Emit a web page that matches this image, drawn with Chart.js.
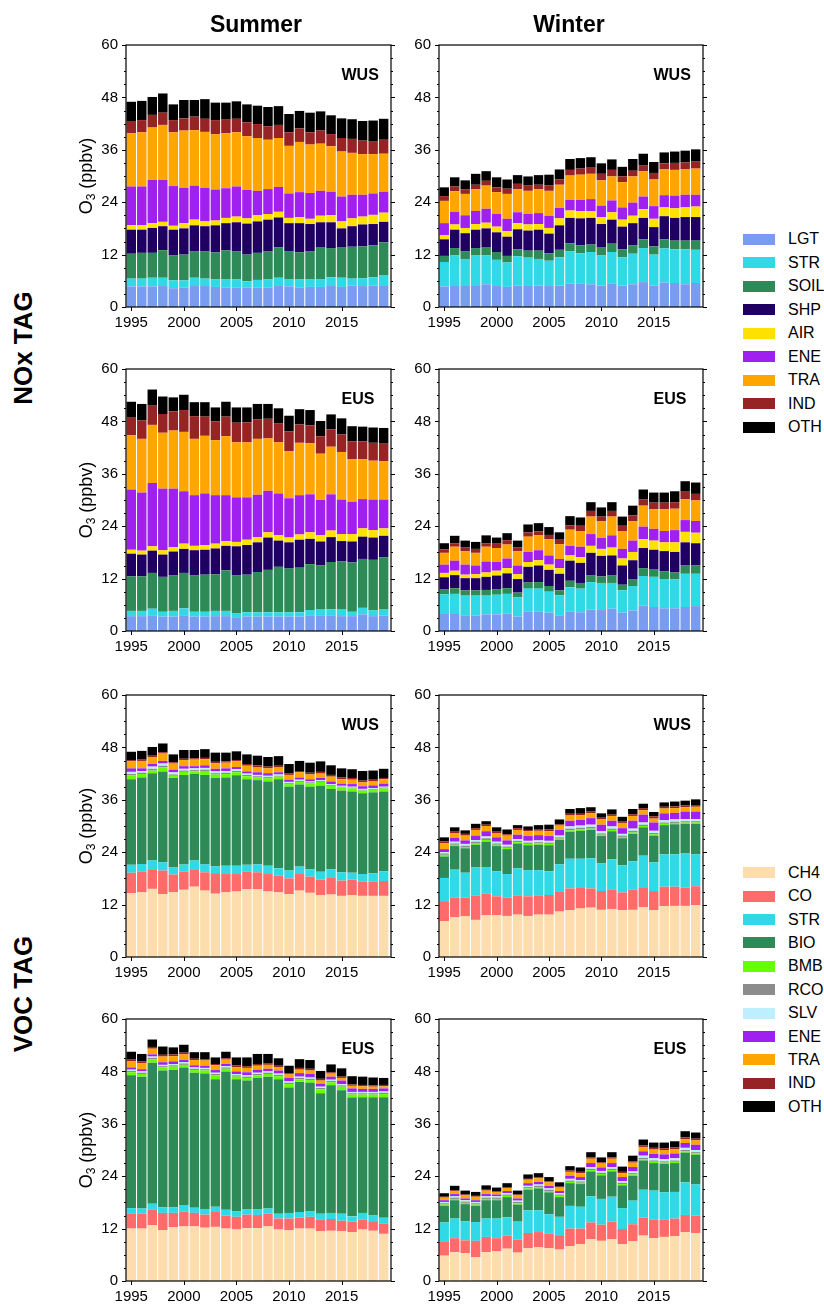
<!DOCTYPE html>
<html><head><meta charset="utf-8">
<script src="https://cdn.jsdelivr.net/npm/chart.js@4.4.1/dist/chart.umd.min.js"></script>
<style>
body{margin:0;background:#fff;width:824px;height:1304px;position:relative;overflow:hidden;font-family:"Liberation Sans",Arial,Helvetica,sans-serif;color:#000;}
canvas{position:absolute;}
.t{position:absolute;white-space:nowrap;}
.col{font-weight:bold;font-size:23px;width:200px;text-align:center;line-height:28px;}
.tag{font-weight:bold;font-size:26px;width:240px;height:32px;line-height:32px;text-align:center;transform:rotate(-90deg);}
.ylab{font-size:18px;width:160px;height:24px;line-height:24px;text-align:center;transform:rotate(-90deg);}
.ylab sub{font-size:12px;vertical-align:-3px;line-height:0;}
.reg{font-weight:bold;font-size:16px;line-height:20px;}
.leg{font-size:16px;line-height:20px;height:20px;}
.sw{position:absolute;width:32px;height:11px;}
</style></head><body>
<div id="root"></div>
<script>
const years = [1995,1996,1997,1998,1999,2000,2001,2002,2003,2004,2005,2006,2007,2008,2009,2010,2011,2012,2013,2014,2015,2016,2017,2018,2019];
const X_TICKS = [1995,2000,2005,2010,2015];
const Y_TICKS = [0,12,24,36,48,60];

// ---- NOx TAG, Summer, WUS ----
const noxSumWUS_LGT = [4.7,4.7,4.7,4.8,4.3,4.4,4.8,4.8,4.6,4.5,4.5,4.4,4.4,4.5,4.8,4.7,4.5,4.6,4.6,4.8,4.6,4.9,4.8,4.9,5.0];
const noxSumWUS_STR = [1.8,1.8,2.0,1.9,1.8,1.7,1.9,1.7,1.7,1.9,1.9,1.5,1.8,1.9,1.9,1.7,1.9,1.7,1.8,2.0,2.1,1.6,1.8,1.9,2.2];
const noxSumWUS_SOIL = [5.7,5.9,5.7,6.3,5.7,5.9,6.1,6.2,6.2,6.6,6.4,6.1,6.2,6.3,7.0,6.4,6.1,6.5,7.2,6.7,6.9,7.3,7.3,7.3,7.6];
const noxSumWUS_SHP = [5.5,5.3,5.7,5.5,5.9,6.0,5.9,5.8,6.2,6.2,6.6,7.1,7.2,7.3,6.8,6.4,6.7,6.2,5.8,5.9,4.4,4.7,5.0,4.9,4.7];
const noxSumWUS_AIR = [1.0,1.0,1.1,1.0,0.9,1.2,1.3,1.1,1.1,1.2,1.3,1.2,1.4,1.3,1.3,1.2,1.4,1.2,1.5,1.6,1.6,1.8,1.8,2.1,2.1];
const noxSumWUS_ENE = [8.9,8.9,9.9,9.6,9.1,8.1,7.8,7.7,7.1,6.8,6.9,6.5,5.6,5.7,5.7,5.6,5.7,5.9,5.7,5.4,5.7,5.4,5.0,4.9,4.8];
const noxSumWUS_TRA = [12.2,12.4,12.0,12.6,12.3,13.1,12.7,12.8,12.7,12.6,12.4,12.3,12.1,11.3,11.2,10.9,11.5,11.1,10.8,10.4,10.3,9.6,9.3,9.0,8.7];
const noxSumWUS_IND = [2.8,2.8,2.9,2.8,2.8,2.8,3.1,3.0,3.2,3.1,3.1,3.2,3.2,3.1,3.0,3.1,3.1,2.8,3.0,2.8,3.1,3.2,3.1,3.0,3.2];
const noxSumWUS_OTH = [4.4,4.4,4.1,4.4,3.6,4.2,3.8,4.5,4.0,3.9,4.0,4.1,4.2,4.4,4.3,4.2,4.0,4.5,4.4,4.3,4.5,4.5,4.5,4.7,4.8];

// ---- NOx TAG, Winter, WUS ----
const noxWinWUS_LGT = [4.7,5.0,5.0,5.0,5.2,4.8,4.6,4.9,5.0,4.9,4.8,4.9,5.4,5.3,5.2,4.9,5.3,4.9,5.2,5.7,4.9,5.6,5.5,5.2,5.5];
const noxWinWUS_STR = [5.6,6.8,6.0,6.9,6.6,6.0,5.6,6.7,6.3,6.1,5.8,6.5,7.4,7.0,7.4,6.9,7.3,6.5,7.0,7.8,7.1,7.8,7.7,8.0,7.6];
const noxWinWUS_SOIL = [1.4,1.7,1.7,1.6,1.8,1.8,1.5,1.6,1.6,1.9,1.7,1.7,1.8,1.8,1.7,1.8,1.9,1.8,1.9,2.0,1.9,2.1,2.0,2.0,2.1];
const noxWinWUS_SHP = [3.8,4.2,4.2,4.2,4.4,4.5,4.4,4.6,4.6,4.8,4.5,5.6,5.8,6.2,6.1,5.4,5.5,5.2,5.1,4.9,4.4,5.3,5.2,5.4,5.4];
const noxWinWUS_AIR = [0.9,1.2,1.2,1.3,1.3,1.3,1.3,1.4,1.4,1.3,1.3,1.6,1.7,1.6,1.5,1.6,1.7,1.6,1.7,2.0,1.9,2.0,2.2,2.2,2.4];
const noxWinWUS_ENE = [2.8,2.9,2.9,3.0,3.2,2.9,2.8,2.5,2.4,2.5,2.8,2.4,2.4,2.6,2.8,2.6,2.7,2.8,3.0,2.9,2.9,2.8,2.9,2.9,2.7];
const noxWinWUS_TRA = [5.1,4.7,4.9,5.0,5.3,5.0,5.7,5.3,5.3,5.5,5.7,5.3,5.6,5.8,5.8,5.8,5.5,5.8,6.0,5.8,6.1,5.9,5.9,5.9,6.0];
const noxWinWUS_IND = [1.1,1.1,1.0,1.0,1.1,1.1,1.2,1.2,1.2,1.0,1.3,1.2,1.3,1.4,1.4,1.5,1.5,1.3,1.3,1.4,1.5,1.4,1.6,1.5,1.6];
const noxWinWUS_OTH = [2.0,2.1,2.1,2.5,2.2,2.3,2.1,2.0,2.1,2.2,2.4,2.3,2.5,2.4,2.4,2.4,2.4,2.2,2.7,2.6,2.5,2.5,2.6,2.7,2.8];

// ---- NOx TAG, Summer, EUS ----
const noxSumEUS_LGT = [3.4,3.4,3.6,3.3,3.3,3.6,3.3,3.3,3.4,3.4,3.0,3.3,3.3,3.3,3.3,3.3,3.3,3.6,3.6,3.6,3.4,3.4,3.8,3.4,3.5];
const noxSumEUS_STR = [1.2,1.2,1.5,1.1,1.3,1.6,1.1,1.1,1.2,1.2,1.0,1.0,1.0,1.0,1.0,1.0,1.0,1.2,1.3,1.4,1.5,1.0,1.5,1.3,1.4];
const noxSumEUS_SOIL = [7.9,7.9,8.2,8.0,8.2,8.1,8.4,8.5,8.4,9.3,8.8,8.6,9.2,9.7,10.4,10.0,10.2,10.5,10.1,10.8,11.1,11.3,11.2,11.6,12.0];
const noxSumEUS_SHP = [5.2,5.0,5.1,5.1,5.4,5.5,5.7,5.7,5.9,5.6,6.6,6.8,6.8,7.4,6.0,6.0,6.4,5.8,5.5,5.7,4.6,4.8,5.1,5.1,4.9];
const noxSumEUS_AIR = [0.9,0.9,1.0,1.0,1.0,1.2,1.0,1.1,1.1,1.1,1.0,1.2,1.2,1.2,1.2,1.1,1.2,1.5,1.4,1.5,1.6,1.7,1.9,1.7,1.7];
const noxSumEUS_ENE = [13.8,13.3,14.5,14.1,13.4,12.0,11.6,11.8,11.1,10.5,10.2,9.7,9.7,9.5,9.6,9.0,9.0,8.7,8.1,8.3,7.9,7.4,6.7,7.0,6.6];
const noxSumEUS_TRA = [12.4,12.3,13.3,12.8,13.3,13.6,12.9,13.2,12.6,13.5,12.6,12.6,12.8,12.0,11.7,10.8,12.0,11.7,10.6,10.9,10.9,9.7,9.1,8.9,8.8];
const noxSumEUS_IND = [4.2,4.2,4.4,4.3,4.4,5.0,5.2,4.4,4.3,4.5,4.5,4.6,4.5,4.5,4.4,4.5,4.2,4.1,4.0,4.0,4.0,4.1,4.1,4.1,4.0];
const noxSumEUS_OTH = [3.5,3.8,3.7,4.0,3.2,3.5,3.2,3.3,3.2,3.4,3.5,3.4,3.5,3.4,3.4,3.6,3.5,3.5,3.5,3.4,3.7,3.5,3.4,3.5,3.6];

// ---- NOx TAG, Winter, EUS ----
const noxWinEUS_LGT = [3.9,3.9,3.6,3.5,3.8,3.8,4.0,3.3,4.4,4.4,4.2,3.6,4.5,4.3,4.9,4.8,5.1,4.2,4.7,5.8,5.5,5.2,5.2,5.5,5.7];
const noxWinEUS_STR = [4.5,4.6,4.5,4.6,4.3,4.5,4.5,4.4,5.3,5.3,4.8,4.6,5.5,5.4,6.3,6.2,5.9,5.1,5.6,6.8,6.9,6.7,6.6,7.6,7.4];
const noxWinEUS_SOIL = [1.2,1.3,1.2,1.2,1.3,1.3,1.3,1.1,1.4,1.5,1.3,1.1,1.5,1.3,1.6,1.5,1.7,1.3,1.6,1.8,1.8,1.8,1.6,2.0,1.9];
const noxWinEUS_SHP = [2.7,3.0,2.8,2.8,3.0,3.1,3.4,3.1,3.6,3.8,3.7,3.8,4.6,4.6,5.1,4.7,4.6,4.4,4.3,4.6,4.4,4.6,4.7,5.2,5.1];
const noxWinEUS_AIR = [1.0,1.0,0.8,0.9,1.0,1.1,1.2,1.1,1.1,1.2,1.2,1.3,1.2,1.3,1.6,1.6,1.8,1.6,1.9,2.0,2.1,2.0,2.2,2.4,2.4];
const noxWinEUS_ENE = [1.9,2.3,2.3,2.0,2.5,2.0,2.2,2.0,2.3,2.3,2.1,2.1,2.2,2.4,2.7,2.5,2.8,2.2,2.6,2.9,2.7,2.6,2.8,2.7,2.7];
const noxWinEUS_TRA = [2.7,3.2,3.1,2.9,3.4,3.2,3.2,3.3,3.5,3.4,3.7,3.4,3.7,3.6,4.0,3.8,4.3,4.1,4.4,4.8,4.5,5.0,4.9,4.8,4.7];
const noxWinEUS_IND = [0.8,0.8,0.9,0.9,0.8,1.0,1.0,0.9,1.0,0.9,1.0,1.0,1.0,1.2,1.3,1.1,1.3,1.2,1.4,1.4,1.5,1.5,1.5,1.7,1.5];
const noxWinEUS_OTH = [1.4,1.7,1.5,1.6,1.8,1.4,1.6,1.5,1.8,1.9,1.8,1.7,2.1,1.9,2.0,2.1,2.0,2.1,2.2,2.3,2.3,2.3,2.5,2.4,2.6];

// ---- VOC TAG, Summer, WUS ----
const vocSumWUS_CH4 = [14.6,14.8,15.6,14.4,14.8,15.4,16.1,15.2,14.5,14.8,15.0,15.5,15.5,15.0,14.8,14.4,15.2,14.7,14.2,14.3,14.0,14.2,14.0,14.0,14.0];
const vocSumWUS_CO = [4.7,4.7,4.5,5.4,4.1,4.2,4.0,4.2,4.7,4.2,4.0,4.0,3.9,4.0,3.8,3.6,3.8,3.7,3.5,3.8,3.5,3.5,3.3,3.3,3.4];
const vocSumWUS_STR = [1.8,1.8,2.0,1.9,1.6,1.6,2.0,1.8,1.6,1.9,1.9,1.6,1.8,1.9,1.7,1.8,1.7,1.7,1.8,2.0,1.9,1.6,1.7,1.9,2.2];
const vocSumWUS_BIO = [19.6,19.8,20.0,20.8,20.5,20.5,19.8,20.5,20.2,20.2,20.7,19.6,19.3,19.3,20.4,19.2,18.8,18.9,19.7,18.4,18.7,18.6,18.5,18.5,18.3];
const vocSumWUS_BMB = [0.9,0.8,0.6,0.9,0.5,0.7,0.6,0.9,0.8,0.8,0.7,0.7,0.6,0.7,0.6,0.6,0.6,0.8,0.9,0.7,0.7,0.7,0.6,0.6,0.7];
const vocSumWUS_RCO = [0.3,0.3,0.4,0.4,0.3,0.3,0.3,0.3,0.3,0.3,0.3,0.3,0.3,0.3,0.2,0.2,0.2,0.2,0.2,0.2,0.2,0.2,0.2,0.2,0.2];
const vocSumWUS_SLV = [0.5,0.4,0.5,0.5,0.5,0.4,0.4,0.4,0.4,0.4,0.4,0.3,0.3,0.3,0.3,0.3,0.3,0.2,0.2,0.2,0.2,0.2,0.2,0.2,0.2];
const vocSumWUS_ENE = [0.8,0.6,0.6,0.6,0.6,0.6,0.5,0.6,0.6,0.6,0.5,0.5,0.6,0.6,0.5,0.5,0.5,0.5,0.5,0.6,0.5,0.6,0.6,0.6,0.7];
const vocSumWUS_TRA = [1.6,1.7,1.5,1.7,1.4,1.4,1.5,1.4,1.3,1.3,1.3,1.3,1.1,1.1,1.1,1.1,1.2,1.1,1.0,1.1,1.0,1.0,0.9,0.9,1.0];
const vocSumWUS_IND = [0.3,0.3,0.4,0.3,0.3,0.3,0.3,0.3,0.3,0.3,0.3,0.4,0.5,0.4,0.4,0.3,0.3,0.4,0.4,0.4,0.4,0.4,0.4,0.4,0.3];
const vocSumWUS_OTH = [1.9,2.0,2.0,2.0,1.8,2.0,1.9,2.0,2.1,2.0,2.0,2.2,2.2,2.2,2.2,2.2,2.3,2.3,2.4,2.2,2.1,2.0,2.2,2.1,2.1];

// ---- VOC TAG, Winter, WUS ----
const vocWinWUS_CH4 = [8.2,9.1,9.3,8.5,9.6,9.6,9.4,9.7,9.4,9.7,9.7,10.4,10.7,11.1,11.3,10.8,11.0,10.7,10.8,11.4,10.7,11.6,11.7,11.7,11.9];
const vocWinWUS_CO = [4.6,4.5,4.3,5.6,4.9,4.3,4.2,4.3,4.5,4.3,4.5,4.5,5.0,4.7,4.4,4.3,4.5,4.1,4.6,4.4,4.4,4.5,4.4,4.2,4.3];
const vocWinWUS_STR = [5.3,6.4,5.7,6.4,6.1,5.7,5.4,6.3,6.0,5.9,5.4,6.3,6.8,6.7,6.9,6.4,6.9,6.2,6.5,7.4,6.6,7.4,7.4,7.8,7.3];
const vocWinWUS_BIO = [4.9,5.4,5.6,5.2,5.8,5.8,5.7,5.7,5.7,5.8,6.0,5.6,6.2,6.4,6.5,6.2,6.4,6.2,6.3,6.5,6.1,6.7,6.9,6.8,7.0];
const vocWinWUS_BMB = [0.4,0.3,0.3,0.4,0.4,0.3,0.3,0.3,0.3,0.3,0.3,0.3,0.3,0.3,0.3,0.3,0.3,0.3,0.3,0.3,0.3,0.3,0.3,0.3,0.3];
const vocWinWUS_RCO = [0.3,0.3,0.3,0.3,0.4,0.3,0.3,0.3,0.3,0.3,0.3,0.3,0.4,0.4,0.4,0.3,0.3,0.3,0.4,0.3,0.3,0.3,0.3,0.3,0.3];
const vocWinWUS_SLV = [0.3,0.4,0.4,0.4,0.4,0.4,0.4,0.4,0.4,0.4,0.4,0.4,0.5,0.5,0.5,0.5,0.5,0.4,0.5,0.5,0.5,0.5,0.5,0.5,0.5];
const vocWinWUS_ENE = [0.7,0.9,0.8,1.0,1.2,1.0,1.0,1.0,1.1,1.2,1.1,1.3,1.3,1.3,1.5,1.5,1.3,1.3,1.8,1.8,1.9,1.6,1.5,1.7,1.7];
const vocWinWUS_TRA = [1.4,1.1,1.1,1.3,1.2,1.0,1.1,1.1,1.1,1.0,1.1,1.0,1.2,1.1,1.1,1.2,1.1,1.2,1.1,1.0,0.9,1.1,1.1,1.0,1.1];
const vocWinWUS_IND = [0.4,0.3,0.4,0.4,0.3,0.3,0.3,0.4,0.3,0.4,0.4,0.3,0.4,0.3,0.4,0.4,0.3,0.3,0.4,0.5,0.5,0.4,0.4,0.4,0.4];
const vocWinWUS_OTH = [0.9,1.0,0.8,1.0,0.8,1.0,1.1,0.7,0.8,0.9,1.1,1.1,1.1,1.3,1.0,1.0,1.2,1.1,1.2,1.0,1.0,1.0,1.1,1.1,1.3];

// ---- VOC TAG, Summer, EUS ----
const vocSumEUS_CH4 = [12.0,12.0,12.8,11.6,12.3,12.5,12.5,12.2,12.4,12.0,11.8,12.1,12.1,12.5,11.8,11.6,12.0,12.0,11.4,11.5,11.4,11.2,11.8,11.5,10.8];
const vocSumEUS_CO = [3.5,3.4,3.5,4.0,3.3,3.4,3.1,3.0,3.4,3.0,2.9,3.1,3.0,2.9,2.5,2.7,2.5,2.7,2.6,2.7,2.4,2.4,2.3,2.2,2.3];
const vocSumEUS_STR = [1.2,1.2,1.4,1.3,1.3,1.5,1.2,1.3,1.2,1.3,1.2,1.2,1.3,1.2,1.1,1.3,1.3,1.3,1.4,1.4,1.6,1.2,1.5,1.3,1.4];
const vocSumEUS_BIO = [30.4,30.2,32.3,31.3,31.5,31.5,30.9,31.0,29.2,31.7,30.3,29.5,30.1,30.2,30.8,28.7,29.8,29.4,27.6,29.2,28.3,27.2,26.5,27.1,27.6];
const vocSumEUS_BMB = [0.7,0.6,0.8,0.7,0.7,0.6,0.6,0.7,0.9,0.6,0.6,0.6,0.6,0.6,0.7,0.8,0.6,0.6,0.9,0.7,0.8,0.7,0.6,0.6,0.7];
const vocSumEUS_RCO = [0.3,0.3,0.3,0.3,0.3,0.3,0.3,0.3,0.3,0.3,0.3,0.3,0.3,0.3,0.3,0.3,0.3,0.3,0.3,0.3,0.3,0.3,0.3,0.3,0.3];
const vocSumEUS_SLV = [0.3,0.3,0.3,0.3,0.3,0.3,0.3,0.3,0.3,0.3,0.3,0.3,0.3,0.3,0.3,0.3,0.3,0.3,0.3,0.3,0.3,0.3,0.3,0.3,0.3];
const vocSumEUS_ENE = [0.5,0.5,0.5,0.6,0.6,0.5,0.5,0.5,0.6,0.5,0.6,0.7,0.7,0.6,0.7,0.8,0.8,0.8,0.7,0.7,0.8,0.8,0.7,0.7,0.7];
const vocSumEUS_TRA = [1.4,1.4,1.3,1.3,1.2,1.3,1.2,1.2,1.1,1.0,1.0,1.0,0.9,0.9,0.8,0.8,0.8,0.8,0.7,0.7,0.6,0.6,0.6,0.5,0.5];
const vocSumEUS_IND = [0.4,0.4,0.4,0.4,0.4,0.4,0.3,0.3,0.3,0.3,0.4,0.4,0.4,0.4,0.3,0.3,0.4,0.4,0.4,0.3,0.3,0.3,0.3,0.3,0.3];
const vocSumEUS_OTH = [1.8,1.7,1.7,1.9,1.6,1.8,1.5,1.6,1.5,1.5,1.8,2.0,2.3,2.1,1.7,1.7,2.0,2.0,1.8,1.8,1.9,1.9,1.9,1.8,1.6];

// ---- VOC TAG, Winter, EUS ----
const vocWinEUS_CH4 = [5.8,6.6,6.4,5.5,6.6,6.8,7.4,6.5,7.5,7.7,7.5,7.2,8.0,8.4,9.6,9.2,9.6,8.4,9.1,10.4,9.8,10.1,10.3,11.2,11.0];
const vocWinEUS_CO = [3.3,3.2,2.9,3.7,3.5,3.0,3.0,3.0,3.5,3.5,3.4,3.3,4.0,3.6,3.8,3.7,4.0,3.5,3.9,4.1,4.3,3.9,4.0,3.9,4.0];
const vocWinEUS_STR = [4.3,4.5,4.4,4.3,4.2,4.5,4.2,4.1,5.2,5.0,4.4,4.2,5.2,5.0,6.0,5.9,5.7,4.8,5.4,6.4,6.6,6.3,6.1,7.5,7.1];
const vocWinEUS_BIO = [3.8,4.2,3.9,3.7,4.2,4.2,4.6,3.9,4.7,5.0,5.0,4.5,5.2,5.2,5.7,5.4,5.8,5.2,5.7,6.7,6.3,6.5,6.6,6.8,6.8];
const vocWinEUS_BMB = [0.3,0.3,0.3,0.3,0.3,0.3,0.3,0.3,0.3,0.3,0.3,0.3,0.3,0.3,0.3,0.3,0.3,0.3,0.3,0.3,0.3,0.3,0.3,0.3,0.3];
const vocWinEUS_RCO = [0.3,0.3,0.3,0.3,0.3,0.3,0.3,0.3,0.3,0.3,0.3,0.3,0.3,0.3,0.3,0.3,0.3,0.3,0.3,0.3,0.3,0.3,0.3,0.3,0.3];
const vocWinEUS_SLV = [0.3,0.3,0.3,0.3,0.3,0.3,0.3,0.3,0.3,0.3,0.3,0.3,0.4,0.3,0.4,0.4,0.4,0.4,0.4,0.5,0.5,0.5,0.5,0.5,0.5];
const vocWinEUS_ENE = [0.4,0.5,0.4,0.4,0.5,0.4,0.5,0.5,0.6,0.6,0.6,0.5,0.7,0.7,0.9,0.8,0.9,0.9,1.0,1.0,1.0,1.1,1.1,1.1,1.2];
const vocWinEUS_TRA = [0.6,0.7,0.7,0.8,0.8,0.6,0.7,0.7,0.8,0.8,0.8,0.8,0.9,0.9,1.0,0.9,1.0,0.9,1.0,1.0,1.0,1.0,1.0,0.9,1.0];
const vocWinEUS_IND = [0.2,0.2,0.2,0.2,0.2,0.2,0.2,0.2,0.2,0.2,0.2,0.2,0.3,0.3,0.3,0.3,0.3,0.3,0.3,0.4,0.4,0.4,0.4,0.4,0.4];
const vocWinEUS_OTH = [0.8,1.0,0.9,0.9,1.0,0.8,0.9,0.9,1.0,1.0,1.0,1.0,1.0,1.0,1.2,1.1,1.2,1.2,1.3,1.3,1.2,1.3,1.4,1.4,1.4];

const NOX_NAMES = ['LGT','STR','SOIL','SHP','AIR','ENE','TRA','IND','OTH'];
const NOX_COLORS = ['#7A9CF0','#30D9E6','#2E8B57','#1F0062','#FFE100','#A020F0','#FFA500','#962424','#000000'];
const VOC_NAMES = ['CH4','CO','STR','BIO','BMB','RCO','SLV','ENE','TRA','IND','OTH'];
const VOC_COLORS = ['#FDDDAE','#FF6A6A','#30D9E6','#2E8B57','#66FF00','#8C8C8C','#BDEFFF','#A020F0','#FFA500','#962424','#000000'];

const FONT = "'Liberation Sans', Arial, Helvetica, sans-serif";
const PLOT_H = 263;
const COLS = {sum:{left:126,right:391}, win:{left:439,right:703}};
const ROWS = [44, 368, 694, 1018];
const X_MIN = 1994.5, X_MAX = 2019.7;

const panels = [
  {col:'sum', row:0, reg:'WUS', names:NOX_NAMES, colors:NOX_COLORS, series:[noxSumWUS_LGT,noxSumWUS_STR,noxSumWUS_SOIL,noxSumWUS_SHP,noxSumWUS_AIR,noxSumWUS_ENE,noxSumWUS_TRA,noxSumWUS_IND,noxSumWUS_OTH]},
  {col:'win', row:0, reg:'WUS', names:NOX_NAMES, colors:NOX_COLORS, series:[noxWinWUS_LGT,noxWinWUS_STR,noxWinWUS_SOIL,noxWinWUS_SHP,noxWinWUS_AIR,noxWinWUS_ENE,noxWinWUS_TRA,noxWinWUS_IND,noxWinWUS_OTH]},
  {col:'sum', row:1, reg:'EUS', names:NOX_NAMES, colors:NOX_COLORS, series:[noxSumEUS_LGT,noxSumEUS_STR,noxSumEUS_SOIL,noxSumEUS_SHP,noxSumEUS_AIR,noxSumEUS_ENE,noxSumEUS_TRA,noxSumEUS_IND,noxSumEUS_OTH]},
  {col:'win', row:1, reg:'EUS', names:NOX_NAMES, colors:NOX_COLORS, series:[noxWinEUS_LGT,noxWinEUS_STR,noxWinEUS_SOIL,noxWinEUS_SHP,noxWinEUS_AIR,noxWinEUS_ENE,noxWinEUS_TRA,noxWinEUS_IND,noxWinEUS_OTH]},
  {col:'sum', row:2, reg:'WUS', names:VOC_NAMES, colors:VOC_COLORS, series:[vocSumWUS_CH4,vocSumWUS_CO,vocSumWUS_STR,vocSumWUS_BIO,vocSumWUS_BMB,vocSumWUS_RCO,vocSumWUS_SLV,vocSumWUS_ENE,vocSumWUS_TRA,vocSumWUS_IND,vocSumWUS_OTH]},
  {col:'win', row:2, reg:'WUS', names:VOC_NAMES, colors:VOC_COLORS, series:[vocWinWUS_CH4,vocWinWUS_CO,vocWinWUS_STR,vocWinWUS_BIO,vocWinWUS_BMB,vocWinWUS_RCO,vocWinWUS_SLV,vocWinWUS_ENE,vocWinWUS_TRA,vocWinWUS_IND,vocWinWUS_OTH]},
  {col:'sum', row:3, reg:'EUS', names:VOC_NAMES, colors:VOC_COLORS, series:[vocSumEUS_CH4,vocSumEUS_CO,vocSumEUS_STR,vocSumEUS_BIO,vocSumEUS_BMB,vocSumEUS_RCO,vocSumEUS_SLV,vocSumEUS_ENE,vocSumEUS_TRA,vocSumEUS_IND,vocSumEUS_OTH]},
  {col:'win', row:3, reg:'EUS', names:VOC_NAMES, colors:VOC_COLORS, series:[vocWinEUS_CH4,vocWinEUS_CO,vocWinEUS_STR,vocWinEUS_BIO,vocWinEUS_BMB,vocWinEUS_RCO,vocWinEUS_SLV,vocWinEUS_ENE,vocWinEUS_TRA,vocWinEUS_IND,vocWinEUS_OTH]}
];

const MINOR_STEP = 3, MAJOR_STEP = 12;
const frameTicks = {
  id:'frameTicks',
  afterDatasetsDraw(chart){
    const {ctx, chartArea:a, scales:{x,y}} = chart;
    ctx.save();
    ctx.strokeStyle = '#000';
    ctx.lineWidth = 1;
    ctx.beginPath();
    for (let v = y.min; v <= y.max; v += MINOR_STEP) {
      const py = Math.round(y.getPixelForValue(v)) + 0.5;
      const len = (v % MAJOR_STEP === 0) ? 4 : 2;
      ctx.moveTo(a.left - len, py); ctx.lineTo(a.left, py);
      ctx.moveTo(a.right, py); ctx.lineTo(a.right + len, py);
    }
    X_TICKS.forEach(v => {
      const px = Math.round(x.getPixelForValue(v)) + 0.5;
      ctx.moveTo(px, a.bottom); ctx.lineTo(px, a.bottom + 4);
    });
    ctx.stroke();
    ctx.lineWidth = 1.2;
    ctx.strokeRect(a.left, a.top, a.right - a.left, a.bottom - a.top);
    ctx.restore();
  }
};

const root = document.getElementById('root');
function addText(cls, html, style){
  const d = document.createElement('div');
  d.className = 't ' + cls; d.innerHTML = html;
  Object.assign(d.style, style);
  root.appendChild(d);
  return d;
}

panels.forEach(p => {
  const c = COLS[p.col];
  const top = ROWS[p.row];
  const PADL = 70, PADR = 12, PADT = 16, PADB = 30;
  const w = PADL + (c.right - c.left) + PADR;
  const h = PADT + PLOT_H + PADB;
  const cv = document.createElement('canvas');
  cv.width = w; cv.height = h;
  cv.style.left = (c.left - PADL) + 'px';
  cv.style.top = (top - PADT) + 'px';
  cv.style.width = w + 'px'; cv.style.height = h + 'px';
  root.appendChild(cv);

  new Chart(cv, {
    type: 'bar',
    data: {
      datasets: p.series.map((arr, k) => ({
        label: p.names[k],
        data: years.map((yr, i) => ({x: yr, y: arr[i]})),
        backgroundColor: p.colors[k],
        borderWidth: 0,
        barPercentage: 0.9,
        categoryPercentage: 1.0
      }))
    },
    options: {
      responsive: false, animation: false, events: [], devicePixelRatio: 1,
      layout: {padding: {top: PADT, right: PADR, left: 0, bottom: 0}},
      plugins: {legend: {display: false}, tooltip: {enabled: false}},
      scales: {
        x: {
          type: 'linear', stacked: true, min: X_MIN, max: X_MAX, offset: false, bounds: 'data',
          afterDataLimits: s => { s.min = X_MIN; s.max = X_MAX; },
          afterBuildTicks: s => { s.ticks = X_TICKS.map(v => ({value: v})); },
          afterFit: s => { s.height = PADB; },
          grid: {display: false, drawTicks: false, offset: false}, border: {display: false},
          ticks: {font: {size: 15, family: FONT}, color: '#000', padding: 7, maxRotation: 0, autoSkip: false, callback: v => String(v)}
        },
        y: {
          stacked: true, min: 0, max: 60,
          afterBuildTicks: s => { s.ticks = Y_TICKS.map(v => ({value: v})); },
          afterFit: s => { s.width = PADL; },
          grid: {display: false, drawTicks: false}, border: {display: false},
          ticks: {font: {size: 15, family: FONT}, color: '#000', padding: 8, autoSkip: false}
        }
      }
    },
    plugins: [frameTicks]
  });

  addText('reg', p.reg, {left: (c.right - 49.5) + 'px', top: (top + 31 - 10) + 'px'});
  if (p.col === 'sum') {
    addText('ylab', 'O<sub>3</sub> (ppbv)', {left: (86 - 80) + 'px', top: (top + PLOT_H/2 - 12) + 'px'});
  }
});

// column titles
addText('col', 'Summer', {left: (256 - 100) + 'px', top: '9.5px'});
addText('col', 'Winter', {left: (569 - 100) + 'px', top: '9.5px'});
// row group tags
addText('tag', 'NOx TAG', {left: (23 - 120) + 'px', top: (348 - 16) + 'px'});
addText('tag', 'VOC TAG', {left: (23 - 120) + 'px', top: (994 - 16) + 'px'});

// legends
function legend(names, colors, y0, dy){
  names.forEach((n, i) => {
    const cy = y0 + dy * i;
    const sw = document.createElement('div');
    sw.className = 'sw';
    Object.assign(sw.style, {left: '743px', top: (cy - 5.5) + 'px', background: colors[i]});
    root.appendChild(sw);
    addText('leg', n, {left: '788px', top: (cy - 10) + 'px'});
  });
}
legend(NOX_NAMES, NOX_COLORS, 239, 23.5);
legend(VOC_NAMES, VOC_COLORS, 872.7, 23.4);
</script>
</body></html>
